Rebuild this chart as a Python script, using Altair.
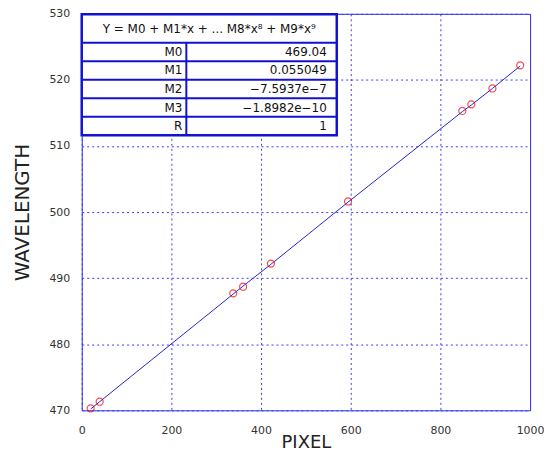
import altair as alt
import pandas as pd

# Calibration points
pixel = [20, 40, 338, 360, 422, 594, 849, 869, 916, 978]
wavelength = [470.3, 471.3, 487.7, 488.7, 492.2, 501.6, 515.3, 516.3, 518.7, 522.2]

# Fitted curve
fit_x = [20, 40, 338, 360, 422, 594, 849, 869, 916, 978]
fit_y = [470.2, 471.3, 487.6, 488.8, 492.1, 501.5, 515.2, 516.2, 518.7, 522.1]

x_ticks = [0, 200, 400, 600, 800, 1000]
y_ticks = [470, 480, 490, 500, 510, 520, 530]

table_header = "Y = M0 + M1*x + ... M8*x\u2078 + M9*x\u2079"
coef_names = ["M0", "M1", "M2", "M3", "R"]
coef_values = ["469.04", "0.055049", "\u22127.5937e\u22127", "\u22121.8982e\u221210", "1"]

pts = pd.DataFrame({"pixel": pixel, "wavelength": wavelength})
fit = pd.DataFrame({"pixel": fit_x, "wavelength": fit_y})

x_enc = alt.X(
    "pixel:Q",
    scale=alt.Scale(domain=[0, 1000], nice=False, zero=False),
    axis=alt.Axis(values=x_ticks, title="PIXEL", format="d", labelPadding=14,
                  titleY=37, titleBaseline="alphabetic", titleFontSize=18,
                  labelFlush=False, labelOverlap=False),
)
y_enc = alt.Y(
    "wavelength:Q",
    scale=alt.Scale(domain=[470, 530], nice=False, zero=False),
    axis=alt.Axis(values=y_ticks, title="WAVELENGTH", labelPadding=12, titlePadding=16,
                  labelFlush=False, labelOverlap=False),
)

line = alt.Chart(fit).mark_line(color="#2424d8", strokeWidth=1).encode(x=x_enc, y=y_enc)
points = alt.Chart(pts).mark_point(shape="circle", color="#ee0000", size=50,
                                   strokeWidth=1.2, filled=False).encode(x=x_enc, y=y_enc)

one = pd.DataFrame({"a": [0]})
BLUE = "#1212d0"
TW = 256      # table width (px, layout)
TOP = 0.5
HEAD_B = 29
ROW_H = 18.6
COL = 105
BOTTOM = HEAD_B + ROW_H * len(coef_names)

layers = [line, points]
layers.append(
    alt.Chart(one).mark_rect(fill="white", stroke=BLUE, strokeWidth=2.5).encode(
        x=alt.value(0), x2=alt.value(TW), y=alt.value(TOP), y2=alt.value(BOTTOM))
)
for i in range(len(coef_names)):
    yy = HEAD_B + ROW_H * i
    layers.append(
        alt.Chart(one).mark_rule(color=BLUE, strokeWidth=2).encode(
            x=alt.value(0), x2=alt.value(TW), y=alt.value(yy))
    )
layers.append(
    alt.Chart(one).mark_rule(color=BLUE, strokeWidth=2).encode(
        x=alt.value(COL), y=alt.value(HEAD_B), y2=alt.value(BOTTOM))
)
layers.append(
    alt.Chart(pd.DataFrame({"t": [table_header]})).mark_text(
        align="center", baseline="middle", font="DejaVu Sans", fontSize=12, color="#111"
    ).encode(x=alt.value(TW / 2), y=alt.value((TOP + HEAD_B) / 2 + 1), text="t:N")
)
for i, (n, v) in enumerate(zip(coef_names, coef_values)):
    yc = HEAD_B + ROW_H * i + ROW_H / 2
    layers.append(
        alt.Chart(pd.DataFrame({"t": [n]})).mark_text(
            align="right", baseline="middle", font="DejaVu Sans", fontSize=12, color="#111"
        ).encode(x=alt.value(COL - 4), y=alt.value(yc), text="t:N")
    )
    layers.append(
        alt.Chart(pd.DataFrame({"t": [v]})).mark_text(
            align="right", baseline="middle", font="DejaVu Sans", fontSize=12, color="#111"
        ).encode(x=alt.value(TW - 10), y=alt.value(yc), text="t:N")
    )

chart = alt.layer(*layers).properties(
    width=450, height=398,
    autosize=alt.AutoSizeParams(type="none"),
    padding={"left": 74, "top": 5, "right": 14, "bottom": 40},
).configure_view(
    stroke="#2b2bd9", strokeWidth=1
).configure_axis(
    grid=True, gridColor="#3a3aff", gridDash=[2, 3], gridWidth=1, gridOpacity=1,
    domain=False, ticks=False,
    labelFont="DejaVu Sans", labelFontSize=11, labelColor="#333",
    titleFont="DejaVu Sans", titleFontSize=20, titleFontWeight="normal", titleColor="#222",
)

chart.save("out.html", embed_options={"renderer": "svg", "actions": False})
